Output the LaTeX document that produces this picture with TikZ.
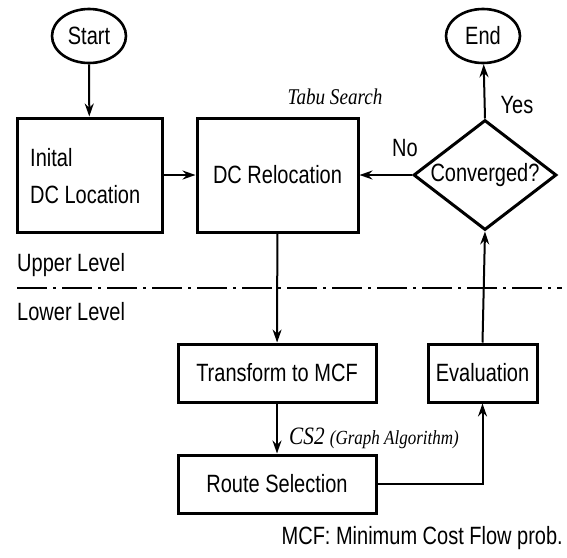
\documentclass[tikz,border=0pt]{standalone}
\usepackage{fontspec}
\setmainfont{Liberation Sans}[FakeStretch=0.8]
\newfontfamily\labfont{Liberation Serif}[FakeStretch=0.85]
\usetikzlibrary{shapes.geometric,arrows.meta}
\begin{document}
\begin{tikzpicture}[x=1pt,y=-1pt,
  every node/.style={font=\fontsize{25}{30}\selectfont, inner sep=0pt},
  box/.style={draw, line width=3pt, minimum width=#1, anchor=center},
  term/.style={draw, ellipse, line width=2.6pt, minimum width=74pt, minimum height=54pt},
  cond/.style={draw, diamond, aspect=1.3, line width=3pt, minimum width=143pt, minimum height=110pt},
  arr/.style={line width=2pt, -{Stealth[length=13pt,width=9pt]}},
  lab/.style={font=\labfont\itshape\fontsize{22.5}{24}\selectfont}]
\useasboundingbox (0,0) rectangle (567,557);
\node[term] (start) at (89,36) {Start};
\node[term] (end) at (483,36) {End};
\node[box=145pt, minimum height=114pt] (init) at (89.5,175) {};
\node[anchor=west, align=left, font=\fontsize{25}{37}\selectfont] (inittxt) at (30,176) {Inital\\DC Location};
\node[box=161pt, minimum height=114pt] (reloc) at (277.5,175) {DC Relocation};
\node[cond] (conv) at (485,175) {Converged?};
\node[box=198pt, minimum height=58pt] (trans) at (277,373) {Transform to MCF};
\node[box=109pt, minimum height=58pt] (eval) at (482.5,373) {Evaluation};
\node[box=198pt, minimum height=58pt] (route) at (277,484) {Route Selection};
\node[lab] (tabu) at (335,97) {Tabu Search};
\node[anchor=west] (cs2) at (289,438) {\labfont\itshape\fontsize{25}{26}\selectfont CS2 {\fontsize{20}{22}\selectfont(Graph Algorithm)}};
\node (yes) at (517,105) {Yes};
\node (no) at (405,148) {No};
\node[anchor=west] (upper) at (17,265) {Upper Level};
\node[anchor=west] (lower) at (17,312) {Lower Level};
\node[anchor=east] (note) at (563,538) {MCF: Minimum Cost Flow prob.};
\coordinate (ls) at (17,288);
\coordinate (le) at (562,288);
\draw[line width=2.4pt, dash pattern=on 30pt off 6pt on 3pt off 6pt] (ls) -- (le);
\draw[arr] (start) -- (init);
\draw[arr] (init) -- (reloc);
\draw[arr] (conv.west) -- (reloc.east);
\draw[arr] (conv.north) -- (end);
\draw[arr] (reloc) -- (trans);
\draw[arr] (trans) -- (route);
\draw[arr] (route.east) -| (eval.south);
\draw[arr] (eval.north) -- (conv.south);
\end{tikzpicture}
\end{document}
